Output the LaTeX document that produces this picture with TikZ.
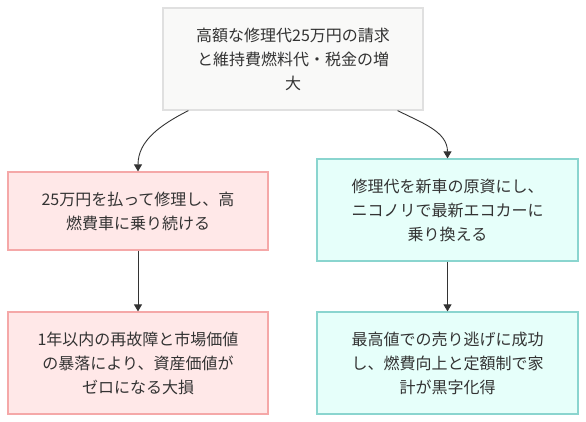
\documentclass[tikz,border=0pt]{standalone}
\usepackage{fontspec}
\setmainfont{Noto Sans CJK JP}
\usepackage{tikz}
\usetikzlibrary{arrows.meta,positioning}
\definecolor{ink}{HTML}{333333}
\definecolor{greyline}{HTML}{E0E0E0}
\definecolor{greybg}{HTML}{F9F9F8}
\definecolor{redline}{HTML}{F5A8A8}
\definecolor{redbg}{HTML}{FFE8E8}
\definecolor{tealline}{HTML}{8AD5CF}
\definecolor{tealbg}{HTML}{E6FFFA}
\tikzset{
  box/.style={line width=1.2pt,align=center,inner sep=0pt,text=ink,
              minimum width=260pt,font=\fontsize{16}{24}\selectfont},
  startbox/.style={box,draw=greyline,fill=greybg,minimum height=102pt},
  badbox/.style={box,draw=redline,fill=redbg},
  goodbox/.style={box,draw=tealline,fill=tealbg,minimum width=261pt},
  flow/.style={-{Triangle[length=7pt,width=8pt]},line width=0.9pt,draw=ink}
}

\begin{document}
\begin{tikzpicture}[x=1pt,y=1pt]
  \useasboundingbox (0,0) rectangle (586,422);
  % top node
  \node[startbox] (cost) at (293,363)
    {高額な修理代25万円の請求\\と維持費燃料代・税金の増\\大};
  % left branch
  \node[badbox,minimum height=78pt] (keep) at (138,211)
    {25万円を払って修理し、高\\燃費車に乗り続ける};
  \node[badbox,minimum height=102pt] (loss) at (138,59)
    {1年以内の再故障と市場価値\\の暴落により、資産価値が\\ゼロになる大損};
  % right branch
  \node[goodbox,minimum height=102pt] (swap) at (447.5,212)
    {修理代を新車の原資にし、\\ニコノリで最新エコカーに\\乗り換える};
  \node[goodbox,minimum height=102pt] (win) at (447.5,59)
    {最高値での売り逃げに成功\\し、燃費向上と定額制で家\\計が黒字化得};
  % connectors
  \draw[flow] ([xshift=26pt]cost.south west) to[out=-153,in=90] (keep.north);
  \draw[flow] ([xshift=-26pt]cost.south east) to[out=-27,in=90] (swap.north);
  \draw[flow] (keep) -- (loss);
  \draw[flow] (swap) -- (win);
\end{tikzpicture}
\end{document}
